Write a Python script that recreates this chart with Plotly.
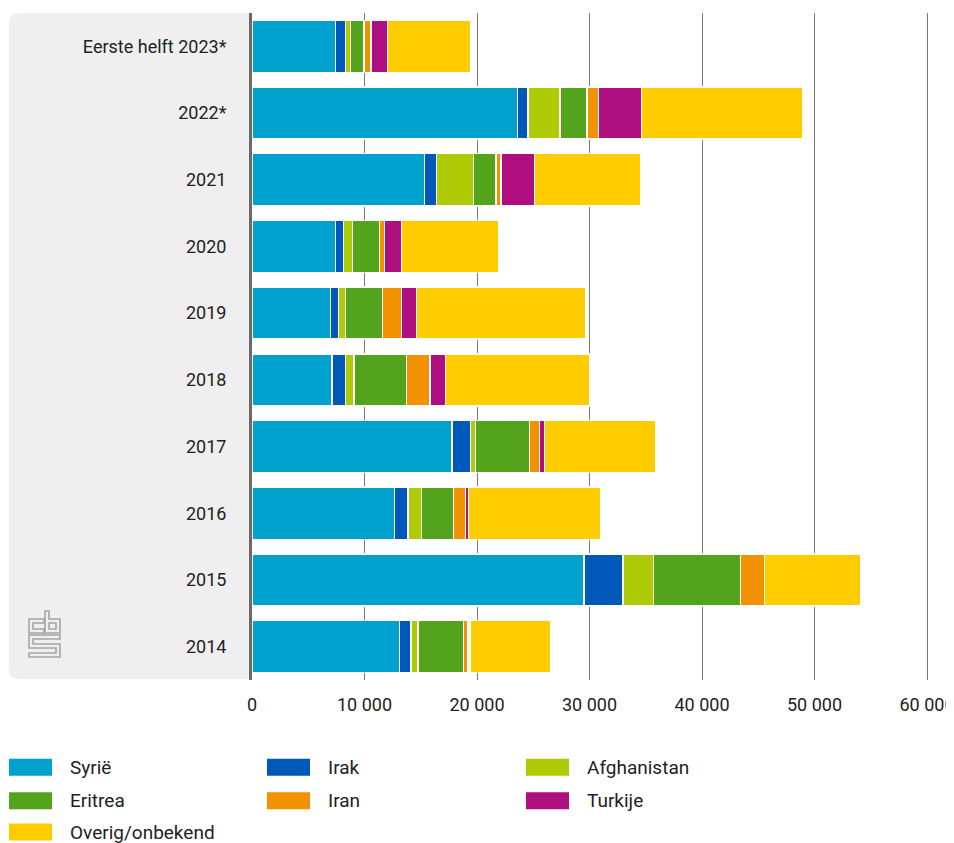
import plotly.graph_objects as go

# ---------------- data ----------------
categories = ["Eerste helft 2023*", "2022*", "2021", "2020", "2019",
              "2018", "2017", "2016", "2015", "2014"]
series_names = ["Syrië", "Irak", "Afghanistan", "Eritrea", "Iran", "Turkije", "Overig/onbekend"]
syrie = [7410, 23610, 15350, 7410, 6960, 7110, 17780, 12650, 29490, 13090]
irak = [890, 920, 1060, 740, 740, 1190, 1630, 1220, 3470, 1060]
afghanistan = [440, 2850, 3290, 770, 600, 770, 440, 1180, 2740, 620]
eritrea = [1230, 2400, 1970, 2400, 3310, 4650, 4800, 2850, 7720, 4040]
iran = [590, 1040, 450, 440, 1660, 2100, 890, 1060, 2120, 380]
turkije = [1500, 3790, 3010, 1510, 1340, 1360, 470, 300, 0, 200]
overig = [7420, 14320, 9400, 8640, 15090, 12820, 9860, 11780, 8570, 7200]
tick_values = [0, 10000, 20000, 30000, 40000, 50000, 60000]
tick_labels = ["0", "10 000", "20 000", "30 000", "40 000", "50 000", "60 000"]

series_values = [syrie, irak, afghanistan, eritrea, iran, turkije, overig]
colors = ["#00a1cd", "#0058b8", "#afcb05", "#53a31d", "#f39200", "#af0e80", "#ffcc00"]

# ---------------- layout geometry ----------------
# the page adds an 8px body margin, so the figure is 8px smaller than the window
OFF = 8
W, H = 954 - OFF, 843 - OFF
PLOT_L, PLOT_R, PLOT_T, PLOT_B = 252, 936, 13, 680      # plot area in window pixels
PX_PER_UNIT = 675 / 60000                                 # 60 000 sits at x = 927
X_MAX = (PLOT_R - PLOT_L) / PX_PER_UNIT
ML, MT = PLOT_L - OFF, PLOT_T - OFF
MR = W - (PLOT_R - OFF)
MB = H - (PLOT_B - OFF)
PW = PLOT_R - PLOT_L
PH = PLOT_B - PLOT_T
FONT = "Roboto, Open Sans, sans-serif"
TXT = "#222222"


def px(xw):
    return (xw - PLOT_L) / PW


def py(yw):
    return (PLOT_B - yw) / PH


fig = go.Figure()
for name, vals, col in zip(series_names, series_values, colors):
    fig.add_trace(go.Bar(
        y=categories, x=vals, name=name, orientation="h",
        marker=dict(color=col, line=dict(color="white", width=1.5)),
        width=0.78, showlegend=False,
        hovertemplate="%{y}<br>" + name + ": %{x}<extra></extra>",
    ))

shapes = []
# grey rounded panel behind category labels
x0, x1 = px(9), px(252)
y0, y1 = py(679), py(13)
rx, ry = 10 / PW, 10 / PH
panel = (f"M {x1},{y1} L {x0 + rx},{y1} Q {x0},{y1} {x0},{y1 - ry} "
         f"L {x0},{y0 + ry} Q {x0},{y0} {x0 + rx},{y0} L {x1},{y0} Z")
shapes.append(dict(type="path", path=panel, xref="paper", yref="paper",
                   fillcolor="#efefef", line=dict(width=0), layer="below"))


# cbs logo outline
def poly(points):
    return "M " + " L ".join(f"{px(a)},{py(b)}" for a, b in points) + " Z"


logo_parts = [
    [(44, 619), (29, 619), (29, 633), (44, 633), (44, 629), (33, 629), (33, 623), (44, 623)],
    [(45, 611), (49, 611), (49, 619), (60, 619), (60, 633), (45, 633)],
    [(49, 623), (56, 623), (56, 629), (49, 629)],
    [(60, 635), (29, 635), (29, 648), (56, 648), (56, 653), (29, 653), (29, 657),
     (60, 657), (60, 644), (33, 644), (33, 639), (60, 639)],
]
for part in logo_parts:
    shapes.append(dict(type="path", path=poly(part), xref="paper", yref="paper",
                       line=dict(color="#a5a5a5", width=1.6), fillcolor="rgba(0,0,0,0)"))

# manual legend (3 columns)
annotations = []
col_x = [9, 267, 526]
row_y = [767.3, 800.7, 832.0]
for i, (name, col) in enumerate(zip(series_names, colors)):
    c, r = i % 3, i // 3
    sx, sy = col_x[c], row_y[r]
    shapes.append(dict(type="rect", xref="paper", yref="paper",
                       x0=px(sx), x1=px(sx + 43), y0=py(sy + 8.5), y1=py(sy - 8.5),
                       fillcolor=col, line=dict(width=0)))
    annotations.append(dict(text=name, xref="paper", yref="paper",
                            x=px(sx + 59), y=py(sy), xanchor="left", yanchor="middle",
                            showarrow=False, font=dict(family=FONT, size=19, color=TXT)))

fig.update_layout(
    width=W, height=H,
    margin=dict(l=ML, r=MR, t=MT, b=MB, pad=0, autoexpand=False),
    barmode="stack",
    plot_bgcolor="rgba(0,0,0,0)",
    paper_bgcolor="white",
    font=dict(family=FONT, size=18, color=TXT),
    shapes=shapes,
    annotations=annotations,
    xaxis=dict(range=[0, X_MAX], tickvals=tick_values, ticktext=tick_labels,
               showgrid=True, gridcolor="#7a7a7a", gridwidth=1,
               zeroline=False, showline=False, ticks="", automargin=False,
               ticklabeloverflow="allow",
               ticklabelstandoff=12, tickfont=dict(size=18, color=TXT),
               fixedrange=True),
    yaxis=dict(type="category", categoryorder="array", categoryarray=categories,
               autorange="reversed", showgrid=False, zeroline=False, automargin=False,
               showline=True, linecolor="#6a6a6a", linewidth=3, ticks="",
               ticklabelstandoff=19, tickfont=dict(size=18, color=TXT),
               fixedrange=True),
)

fig.write_html("out.html")
